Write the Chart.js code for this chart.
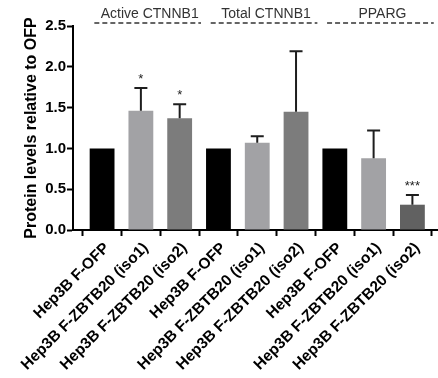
<!DOCTYPE html>
<html>
<head>
<meta charset="utf-8">
<script src="https://cdn.jsdelivr.net/npm/chart.js@4.4.0/dist/chart.umd.min.js"></script>
<style>
  body { margin: 0; background: #fff; }
  #wrap { width: 438px; height: 378px; }
</style>
</head>
<body>
<div id="wrap"><canvas id="barChart"></canvas></div>
<script>
const labels = ["Hep3B F-OFP", "Hep3B F-ZBTB20 (iso1)", "Hep3B F-ZBTB20 (iso2)",
                "Hep3B F-OFP", "Hep3B F-ZBTB20 (iso1)", "Hep3B F-ZBTB20 (iso2)",
                "Hep3B F-OFP", "Hep3B F-ZBTB20 (iso1)", "Hep3B F-ZBTB20 (iso2)"];
const groups = ["Active CTNNB1", "Total CTNNB1", "PPARG"];
const values = [1.0, 1.46, 1.37, 1.0, 1.07, 1.45, 1.0, 0.88, 0.31];
const errors = [0, 0.28, 0.17, 0, 0.08, 0.74, 0, 0.34, 0.12];
const stars = ["", "*", "*", "", "", "", "", "", "***"];
const yTicks = [0, 0.5, 1.0, 1.5, 2.0, 2.5];

const barColors = ["#000000", "#a2a2a5", "#7c7c7c",
                   "#000000", "#a2a2a5", "#7c7c7c",
                   "#000000", "#a2a2a5", "#616161"];

const FONT = "'Liberation Sans', Arial, sans-serif";

// error bars + significance stars
const errorBars = {
    id: 'errorBars',
    afterDatasetsDraw(chart) {
        const ctx = chart.ctx;
        const yScale = chart.scales.y;
        const bars = chart.getDatasetMeta(0).data;
        ctx.save();
        ctx.strokeStyle = "#1e1e1e";
        ctx.lineWidth = 2;
        bars.forEach((bar, i) => {
            const top = yScale.getPixelForValue(values[i] + errors[i]);
            if (errors[i] > 0) {
                ctx.beginPath();
                ctx.moveTo(bar.x, bar.y);
                ctx.lineTo(bar.x, top);
                ctx.moveTo(bar.x - 6.5, top);
                ctx.lineTo(bar.x + 6.5, top);
                ctx.stroke();
            }
            if (stars[i]) {
                ctx.fillStyle = "#222";
                ctx.font = "13px " + FONT;
                ctx.textAlign = "center";
                ctx.textBaseline = "alphabetic";
                ctx.fillText(stars[i], bar.x, top - 5);
            }
        });
        ctx.restore();
    }
};

// group headers with dashed lines
const groupHeaders = {
    id: 'groupHeaders',
    afterDraw(chart) {
        const ctx = chart.ctx;
        const xScale = chart.scales.x;
        const top = chart.chartArea.top;
        ctx.save();
        groups.forEach((name, g) => {
            const x1 = xScale.getPixelForValue(g * 3 - 0.2);
            const x2 = Math.min(xScale.getPixelForValue(g * 3 + 2.55), chart.width);
            ctx.strokeStyle = "#333";
            ctx.lineWidth = 1.5;
            ctx.setLineDash([5, 3]);
            ctx.beginPath();
            ctx.moveTo(x1, top - 3);
            ctx.lineTo(x2, top - 3);
            ctx.stroke();
            ctx.fillStyle = "#333";
            ctx.font = "14px " + FONT;
            ctx.textAlign = "center";
            ctx.textBaseline = "alphabetic";
            ctx.fillText(name, (x1 + x2) / 2 + 2, top - 8);
        });
        ctx.restore();
    }
};

const CHART = document.getElementById("barChart");

let barChart = new Chart(CHART, {
    type: 'bar',
    data: {
        datasets: [{
            data: values.map((v, i) => ({ x: i, y: v })),
            backgroundColor: barColors,
            borderWidth: 0,
            barPercentage: 0.8,
            categoryPercentage: 0.8
        }]
    },
    options: {
        responsive: true,
        maintainAspectRatio: false,
        animation: false,
        layout: { padding: { top: 26, left: 0, right: 0, bottom: 0 } },
        plugins: {
            legend: { display: false },
            tooltip: { enabled: false }
        },
        scales: {
            x: {
                type: 'linear',
                min: -0.75,
                max: 8.66,
                offset: false,
                afterFit: (s) => { s.height = 148; },
                grid: { drawOnChartArea: false, drawTicks: true, tickLength: 6, tickWidth: 2, tickColor: "#000" },
                border: { display: true, color: "#000", width: 2 },
                ticks: {
                    stepSize: 1,
                    includeBounds: false,
                    autoSkip: false,
                    maxRotation: 45,
                    minRotation: 45,
                    padding: 3,
                    labelOffset: 5,
                    color: "#000",
                    font: { family: FONT, size: 15.5, weight: 'bold' },
                    callback: (v) => labels[v] ?? ''
                }
            },
            y: {
                min: 0,
                max: 2.5,
                afterFit: (s) => { s.width = 73; },
                afterBuildTicks: (s) => { s.ticks = yTicks.map(v => ({ value: v })); },
                grid: { drawOnChartArea: false, drawTicks: true, tickLength: 6, tickWidth: 2, tickColor: "#000" },
                border: { display: true, color: "#000", width: 2 },
                title: {
                    display: true,
                    text: "Protein levels relative to OFP",
                    color: "#000",
                    font: { family: FONT, size: 16, weight: 'bold' },
                    padding: { top: 22, bottom: 0 }
                },
                ticks: {
                    padding: 1,
                    color: "#000",
                    font: { family: FONT, size: 15, weight: 'bold' },
                    callback: (v) => v.toFixed(1)
                }
            }
        }
    },
    plugins: [errorBars, groupHeaders]
});
</script>
</body>
</html>
